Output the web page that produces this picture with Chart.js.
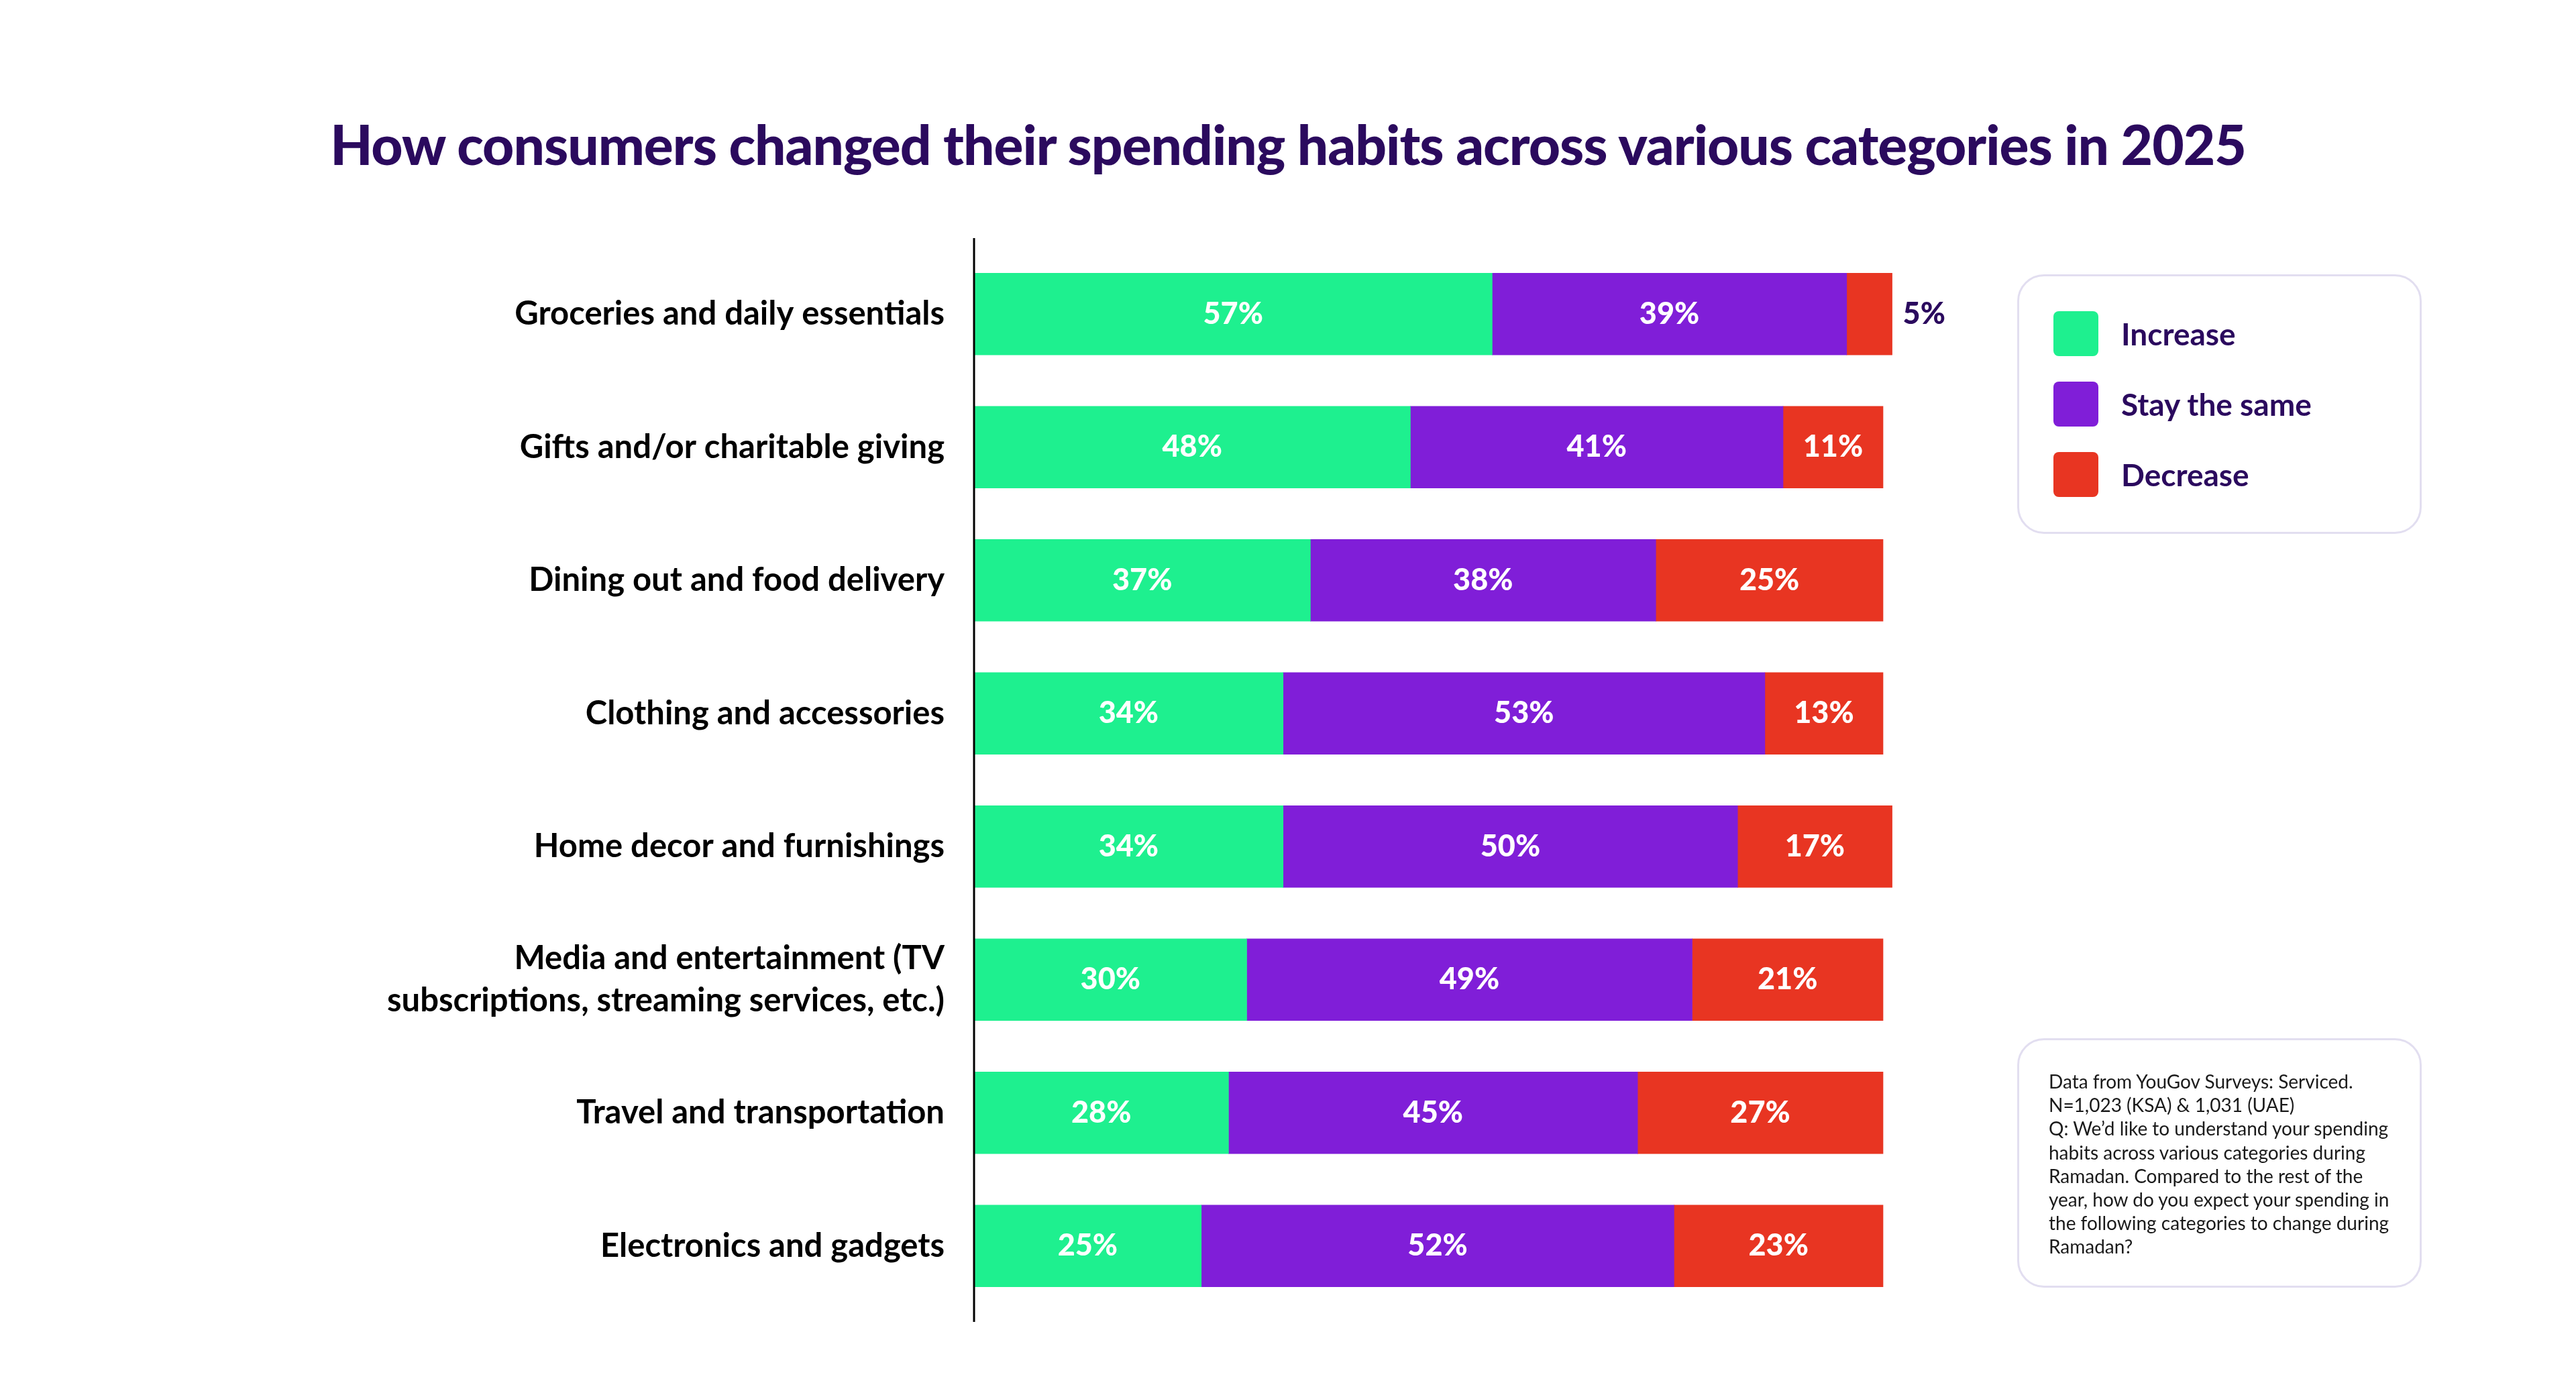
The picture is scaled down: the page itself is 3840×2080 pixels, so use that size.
<!DOCTYPE html>
<html>
<head>
<meta charset="utf-8">
<script src="https://cdn.jsdelivr.net/npm/chart.js@4.4.1/dist/chart.umd.min.js"></script>
<style>
  html, body { margin: 0; padding: 0; background: #fff; }
  body { width: 3840px; height: 2080px; position: relative; overflow: hidden; font-family: Lato, "Noto Sans", sans-serif; }
  #title { position: absolute; left: 0; top: 165px; width: 3840px; text-align: center; font-size: 82px; font-weight: 900; color: #2b0a5e; letter-spacing: -1px; }
  #wrap { position: absolute; left: 0; top: 0; width: 3840px; height: 2080px; }
  #legendBox { position: absolute; left: 3007px; top: 409px; width: 597px; height: 381px; border: 3px solid #e2def0; border-radius: 40px; }
  .item { position: absolute; left: 51px; height: 67px; display: flex; align-items: center; }
  .sw { width: 67px; height: 67px; border-radius: 8px; margin-right: 34px; }
  .item span { font-size: 46px; font-weight: 700; color: #2b0a5e; }
  #note { position: absolute; left: 3007px; top: 1548px; width: 597px; height: 366px; border: 3px solid #e2def0; border-radius: 40px; }
  #note div { position: absolute; left: 44px; top: 44px; font-size: 28px; line-height: 35.2px; color: #1a1a1a; white-space: nowrap; }
</style>
</head>
<body>
<div id="title">How consumers changed their spending habits across various categories in 2025</div>
<div id="wrap"><canvas id="myChart"></canvas></div>
<div id="legendBox"></div>
<div id="note"><div>Data from YouGov Surveys: Serviced.<br>N=1,023 (KSA) &amp; 1,031 (UAE)<br>Q: We’d like to understand your spending<br>habits across various categories during<br>Ramadan. Compared to the rest of the<br>year, how do you expect your spending in<br>the following categories to change during<br>Ramadan?</div></div>
<script>
// categories and values
var categories = [
    'Groceries and daily essentials',
    'Gifts and/or charitable giving',
    'Dining out and food delivery',
    'Clothing and accessories',
    'Home decor and furnishings',
    ['Media and entertainment (TV', 'subscriptions, streaming services, etc.)'],
    'Travel and transportation',
    'Electronics and gadgets'
];
var seriesNames = ['Increase', 'Stay the same', 'Decrease'];
var increase = [57, 48, 37, 34, 34, 30, 28, 25];
var staySame = [39, 41, 38, 53, 50, 49, 45, 52];
var decrease = [5, 11, 25, 13, 17, 21, 27, 23];
var colors = ['#1ef08f', '#801ed8', '#e83522'];

// legend in the box
var legendBox = document.getElementById('legendBox');
seriesNames.forEach(function (name, i) {
    var item = document.createElement('div');
    item.className = 'item';
    item.style.top = (52 + i * 105) + 'px';
    item.innerHTML = '<div class="sw" style="background:' + colors[i] + '"></div><span>' + name + '</span>';
    legendBox.appendChild(item);
});

// percent labels on the segments + the vertical axis line
var barLabels = {
    id: 'barLabels',
    afterDatasetsDraw: function (chart) {
        var ctx = chart.ctx;
        var area = chart.chartArea;
        ctx.save();
        // axis line runs a bit past the plot area
        ctx.strokeStyle = '#000000';
        ctx.lineWidth = 3;
        ctx.beginPath();
        ctx.moveTo(area.left, area.top - 14);
        ctx.lineTo(area.left, area.bottom + 14);
        ctx.stroke();

        ctx.font = '900 45px Lato, sans-serif';
        ctx.textBaseline = 'middle';
        chart.data.datasets.forEach(function (ds, di) {
            var meta = chart.getDatasetMeta(di);
            meta.data.forEach(function (bar, i) {
                var txt = ds.data[i] + '%';
                var w = Math.abs(bar.x - bar.base);
                if (w < 70) {
                    // too narrow, put it outside
                    ctx.fillStyle = '#2b0a5e';
                    ctx.textAlign = 'left';
                    ctx.fillText(txt, bar.x + 16, bar.y);
                } else {
                    ctx.fillStyle = '#ffffff';
                    ctx.textAlign = 'center';
                    ctx.fillText(txt, (bar.x + bar.base) / 2, bar.y);
                }
            });
        });
        ctx.restore();
    }
};

var ctx = document.getElementById('myChart').getContext('2d');
var myChart = new Chart(ctx, {
    type: 'bar',
    data: {
        labels: categories,
        datasets: [
            { label: seriesNames[0], data: increase, backgroundColor: colors[0] },
            { label: seriesNames[1], data: staySame, backgroundColor: colors[1] },
            { label: seriesNames[2], data: decrease, backgroundColor: colors[2] }
        ]
    },
    options: {
        indexAxis: 'y',
        responsive: true,
        maintainAspectRatio: false,
        devicePixelRatio: 1,
        animation: false,
        clip: false,
        datasets: { bar: { barThickness: 122, borderWidth: 0 } },
        layout: { padding: { top: 369, bottom: 123, right: 1033, left: 0 } },
        plugins: {
            legend: { display: false },
            tooltip: { enabled: false }
        },
        scales: {
            x: { stacked: true, min: 0, max: 100, display: false },
            y: {
                stacked: true,
                grid: { display: false, drawTicks: false },
                border: { display: false },
                ticks: {
                    color: '#000000',
                    padding: 44,
                    font: { family: 'Lato', size: 49, weight: '700', lineHeight: 1.3 }
                },
                afterFit: function (scale) { scale.width = 1452; }
            }
        }
    },
    plugins: [barLabels]
});
</script>
</body>
</html>
